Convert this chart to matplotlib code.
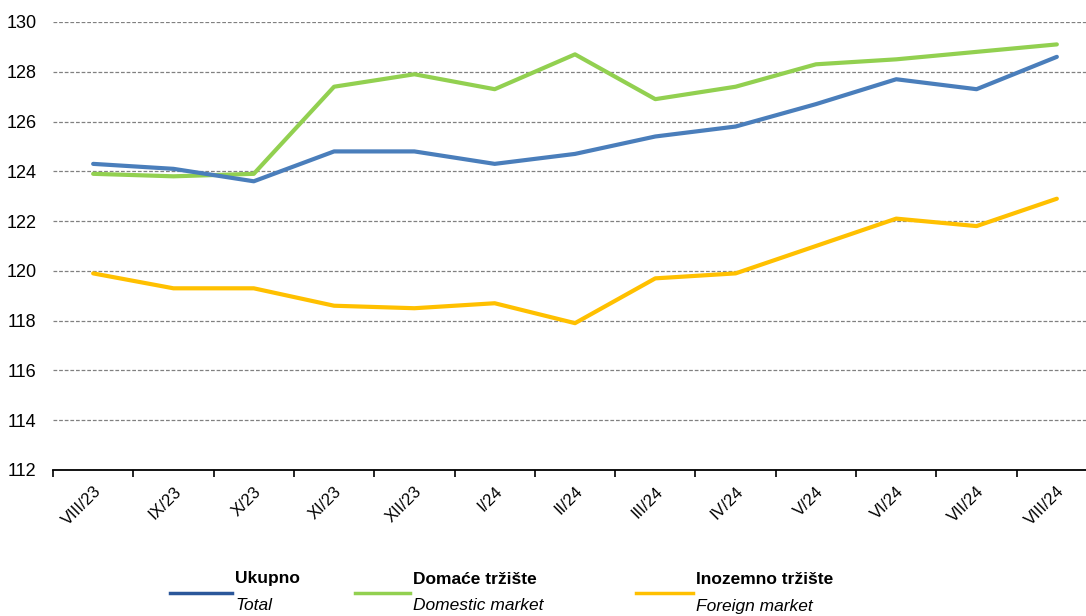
import matplotlib.pyplot as plt
import numpy as np
from matplotlib.lines import Line2D

plt.rcParams['font.family'] = ['Liberation Sans Narrow', 'Liberation Sans', 'DejaVu Sans']

months = ['VIII/23', 'IX/23', 'X/23', 'XI/23', 'XII/23', 'I/24', 'II/24',
          'III/24', 'IV/24', 'V/24', 'VI/24', 'VII/24', 'VIII/24']
ukupno = [124.3, 124.1, 123.6, 124.8, 124.8, 124.3, 124.7, 125.4, 125.8, 126.7, 127.7, 127.3, 128.6]
domace = [123.9, 123.8, 123.9, 127.4, 127.9, 127.3, 128.7, 126.9, 127.4, 128.3, 128.5, 128.8, 129.1]
inozemno = [119.9, 119.3, 119.3, 118.6, 118.5, 118.7, 117.9, 119.7, 119.9, 121.0, 122.1, 121.8, 122.9]

c_blue = '#4A7EBB'
c_green = '#92D050'
c_yellow = '#FFC000'

fig = plt.figure(figsize=(10.86, 6.16), dpi=100)
ax = fig.add_axes([53/1086, 146/616, 1044/1086, 448/616])

x = np.arange(len(months))
ax.plot(x, domace, color=c_green, lw=3, solid_capstyle='round', zorder=3)
ax.plot(x, ukupno, color=c_blue, lw=3, solid_capstyle='round', zorder=4)
ax.plot(x, inozemno, color=c_yellow, lw=3, solid_capstyle='round', zorder=3)

ax.set_xlim(-0.5, len(months) - 0.5)
ax.set_ylim(112, 130)
ax.set_yticks(np.arange(112, 131, 2))
ax.tick_params(axis='y', length=0, labelsize=13, pad=12)
ax.yaxis.grid(True, color='#808080', ls=(0, (3, 1.5)), lw=0.9)
ax.set_axisbelow(True)

ax.set_xticks(x)
ax.set_xticklabels(months, rotation=45, ha='right', rotation_mode='anchor', fontsize=12)
ax.tick_params(axis='x', which='major', length=0, pad=10)
ax.set_xticks(np.arange(-0.5, len(months), 1), minor=True)
ax.tick_params(axis='x', which='minor', length=5, width=1.2, color='black', direction='out')

for s in ['top', 'right', 'left']:
    ax.spines[s].set_visible(False)
ax.spines['bottom'].set_linewidth(1.3)

# legend
items = [(170, 232, '#2B579A', 'Ukupno', 'Total'),
         (355, 410, c_green, 'Domaće tržište', 'Domestic market'),
         (636, 693, c_yellow, 'Inozemno tržište', 'Foreign market')]
for x0, x1, col, lab, sub in items:
    fig.add_artist(Line2D([x0/1086, x1/1086], [1 - 593/616] * 2, color=col, lw=2.5,
                          transform=fig.transFigure))
    fig.text((x1 + 3)/1086, 1 - 579/616, lab, fontsize=12.5, fontweight='bold', va='center')
    fig.text((x1 + 3)/1086, 1 - 606/616, sub, fontsize=12.5, style='italic', va='center')

fig.savefig('out.png', dpi=100)
